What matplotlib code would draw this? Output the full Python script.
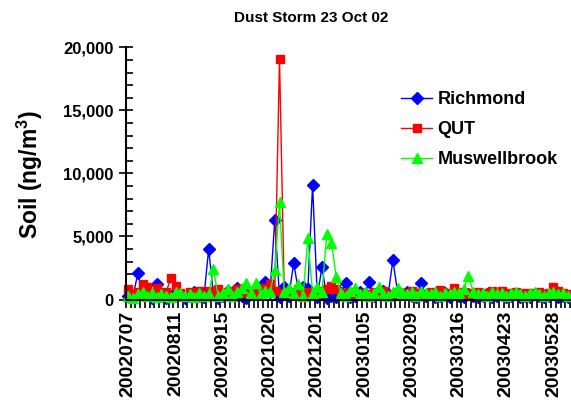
import matplotlib
matplotlib.use("Agg")
import matplotlib.pyplot as plt
from matplotlib.ticker import MultipleLocator, FuncFormatter, FixedLocator
import numpy as np

plt.rcParams['font.family'] = ['Liberation Sans', 'DejaVu Sans']
plt.rcParams['font.weight'] = 'bold'
plt.rcParams['mathtext.fontset'] = 'custom'
plt.rcParams['mathtext.rm'] = 'Liberation Sans:bold'
plt.rcParams['mathtext.it'] = 'Liberation Sans:bold'
plt.rcParams['mathtext.bf'] = 'Liberation Sans:bold'

title = "Dust Storm 23 Oct 02"
ylabel = r"Soil (ng/m$^{3}$)"
tick_labels = ["20020707", "20020811", "20020915", "20021020", "20021201",
               "20030105", "20030209", "20030316", "20030423", "20030528"]

richmond = [300, 250, 2100, 350, 450, 150, 1200, 300, 150, 250,
            500, 350, 150, 250, 600, 300, 200, 4000, 400, 100,
            300, 700, 400, 900, 300, 150, 500, 600, 800, 1400,
            600, 6300, 200, 1000, 300, 2900, 700, 1000, 800, 9100,
            200, 2600, 100, 300, 200, 500, 1300, 200, 300, 600,
            400, 1400, 300, 600, 700, 400, 3100, 600, 400, 600,
            300, 200, 1300, 300, 400, 200, 300, 500, 200, 400,
            300, 200, 400, 300, 200, 300, 400, 200, 300, 500,
            200, 300, 400, 200, 300, 200, 400, 300, 200, 300,
            400, 200, 300, 200]
qut = [850, 400, 600, 1200, 1000, 500, 900, 400, 600, 1700,
       1050, 500, 300, 600, 400, 700, 300, 700, 500, 800,
       400, 600, 300, 800, 500, 700, 400, 600, 900, 500,
       1200, 700, 19100, 500, 600, 400, 800, 300, 600, 500,
       400, 700, 800, 1100, 800, 500, 400, 600, 300, 500,
       400, 300, 600, 500, 700, 400, 300, 600, 500, 400,
       700, 500, 400, 300, 600, 500, 750, 400, 500, 950,
       600, 400, 500, 300, 600, 500, 400, 700, 500, 650,
       400, 500, 600, 300, 500, 400, 500, 600, 400, 500,
       1000, 700, 500, 400]
muswellbrook = [300, 100, 400, 600, 300, 500, 200, 400, 300, 200,
                600, 500, 300, 400, 200, 500, 300, 400, 2400, 300,
                500, 800, 300, 600, 900, 1300, 500, 1300, 400, 700,
                600, 2300, 7700, 600, 900, 400, 1200, 300, 4900, 500,
                1000, 600, 5200, 4500, 1800, 500, 300, 700, 900, 400,
                600, 300, 500, 1000, 400, 300, 600, 900, 500, 400,
                600, 300, 700, 500, 400, 600, 300, 500, 400, 600,
                500, 800, 1900, 600, 400, 500, 300, 600, 400, 500,
                300, 500, 600, 400, 300, 500, 600, 400, 300, 500,
                600, 400, 500, 300]

series = [("Richmond", richmond, "#0000FF", "D", 6),
          ("QUT", qut, "#FF0000", "s", 6),
          ("Muswellbrook", muswellbrook, "#00FF00", "^", 7)]

W, H = 571, 405
fig = plt.figure(figsize=(W / 100, H / 100), dpi=100)
ax = fig.add_axes([126 / W, (H - 299.5) / H, (570 - 126) / W, (299.5 - 47.3) / H])

n = len(richmond)
x = np.arange(n)
for name, vals, col, mk, ms in series:
    ax.plot(x, vals, color=col, lw=1.0, marker=mk, markersize=ms,
            markerfacecolor=col, markeredgecolor=col, label=name, clip_on=False)

ax.set_xlim(-0.5, n - 0.5)
ax.set_ylim(0, 20000)
ax.yaxis.set_major_locator(MultipleLocator(5000))
ax.yaxis.set_minor_locator(MultipleLocator(1000))
ax.yaxis.set_major_formatter(FuncFormatter(lambda v, p: f"{int(v):,}"))
ax.tick_params(axis='y', which='major', direction='inout', length=10, width=1.2, labelsize=12, pad=4)
ax.tick_params(axis='y', which='minor', direction='in', length=5, width=1.2)

ax.xaxis.set_major_locator(FixedLocator(np.arange(0, n, 10)[:len(tick_labels)]))
ax.xaxis.set_minor_locator(FixedLocator(np.arange(-0.5, n, 1.0)))
ax.set_xticklabels(tick_labels, rotation=90, fontsize=14, fontweight='bold')
ax.tick_params(axis='x', which='major', length=0, pad=8)
ax.tick_params(axis='x', which='minor', direction='out', length=6, width=1.2)
for lab in ax.get_yticklabels():
    lab.set_fontweight('bold')

for s in ['top', 'right']:
    ax.spines[s].set_visible(False)
ax.spines['left'].set_linewidth(1.5)
ax.spines['bottom'].set_linewidth(1.5)
ax.patch.set_alpha(0)

fig.text(311 / W, 1 - 18 / H, title, ha='center', va='center', fontsize=11, fontweight='bold')
fig.text(30 / W, 1 - 175 / H, ylabel, ha='center', va='center', rotation=90,
         fontsize=16.5, fontweight='bold')

leg = ax.legend(loc='upper left', bbox_to_anchor=(394 / W, 1 - 84 / H),
                bbox_transform=fig.transFigure, frameon=False,
                prop={'weight': 'bold', 'size': 13}, handlelength=1.7,
                handletextpad=0.3, labelspacing=0.72, borderaxespad=0)

fig.savefig("out.png", dpi=100)
